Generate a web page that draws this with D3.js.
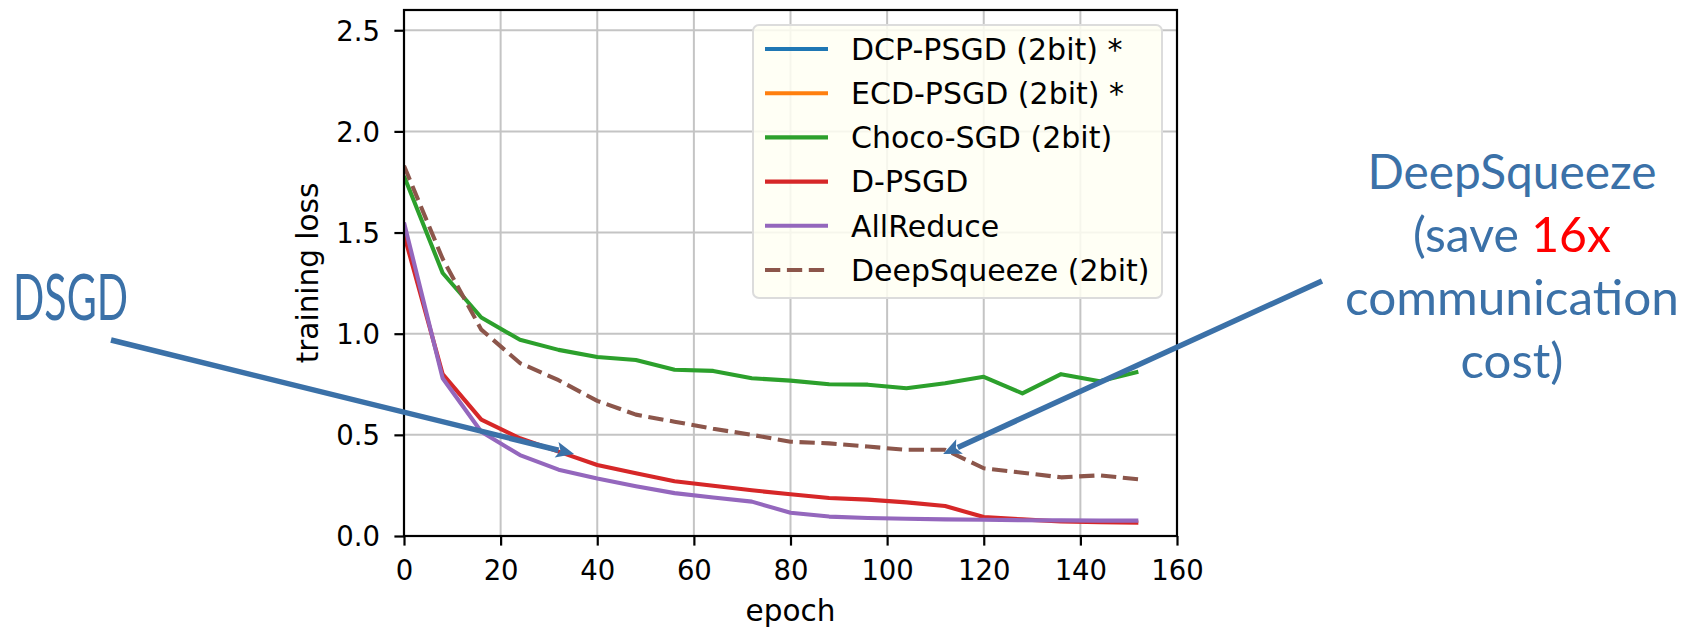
<!DOCTYPE html>
<html>
<head>
<meta charset="utf-8">
<script src="https://cdn.jsdelivr.net/npm/d3@7"></script>
<style>
  html, body { margin: 0; padding: 0; background: #ffffff; }
  svg { display: block; }
</style>
</head>
<body>
<svg id="chart" width="1686" height="630"></svg>
<script>
// Training loss per epoch for each method
const epochs = [0, 8, 16, 24, 32, 40, 48, 56, 64, 72, 80, 88, 96, 104, 112, 120, 128, 136, 144, 152];
// The two starred methods diverge: their loss never enters the plotted range
const dcpLoss = [];
const ecdLoss = [];
const chocoLoss = [1.78, 1.30, 1.08, 0.97, 0.92, 0.885, 0.87, 0.822, 0.816, 0.78, 0.768, 0.75, 0.748, 0.73, 0.755, 0.787, 0.705, 0.80, 0.765, 0.812];
const dpsgdLoss = [1.49, 0.80, 0.575, 0.483, 0.417, 0.351, 0.31, 0.271, 0.248, 0.226, 0.206, 0.188, 0.18, 0.166, 0.148, 0.094, 0.082, 0.072, 0.068, 0.066];
const allreduceLoss = [1.55, 0.78, 0.515, 0.40, 0.328, 0.284, 0.246, 0.212, 0.19, 0.17, 0.115, 0.096, 0.089, 0.085, 0.082, 0.08, 0.078, 0.077, 0.076, 0.076];
const deepsqueezeLoss = [1.83, 1.37, 1.02, 0.855, 0.77, 0.668, 0.60, 0.565, 0.53, 0.50, 0.466, 0.458, 0.442, 0.426, 0.426, 0.335, 0.313, 0.29, 0.30, 0.28];

const seriesNames = ["DCP-PSGD (2bit) *", "ECD-PSGD (2bit) *", "Choco-SGD (2bit)", "D-PSGD", "AllReduce", "DeepSqueeze (2bit)"];
const seriesValues = [dcpLoss, ecdLoss, chocoLoss, dpsgdLoss, allreduceLoss, deepsqueezeLoss];
const seriesColors = ["#1f77b4", "#ff7f0e", "#2ca02c", "#d62728", "#9467bd", "#8c564b"];
const seriesDashed = [false, false, false, false, false, true];

const xTicks = [0, 20, 40, 60, 80, 100, 120, 140, 160];
const yTicks = [0.0, 0.5, 1.0, 1.5, 2.0, 2.5];
const xLabel = "epoch";
const yLabel = "training loss";

// Callout pointers: tip in data space (epoch, loss), tail in page space
const dsgdTip = [35.2, 0.405];
const deepsqueezeTip = [111.6, 0.405];

const svg = d3.select("#chart");

const plot = { left: 404, right: 1177, top: 10, bottom: 536 };
const x = d3.scaleLinear().domain([0, 160]).range([plot.left, plot.right]);
const y = d3.scaleLinear().domain([0, 2.6]).range([plot.bottom, plot.top]);

const tickFont = "'DejaVu Sans', sans-serif";

svg.append("defs").append("clipPath").attr("id", "plot-clip")
  .append("rect")
  .attr("x", plot.left).attr("y", plot.top)
  .attr("width", plot.right - plot.left).attr("height", plot.bottom - plot.top);

// Grid
const grid = svg.append("g").attr("class", "grid");
grid.selectAll("line.gx").data(xTicks).join("line")
  .attr("x1", d => x(d)).attr("x2", d => x(d))
  .attr("y1", plot.top).attr("y2", plot.bottom)
  .attr("stroke", "#c4c4c4").attr("stroke-width", 2);
grid.selectAll("line.gy").data(yTicks).join("line")
  .attr("x1", plot.left).attr("x2", plot.right)
  .attr("y1", d => y(d)).attr("y2", d => y(d))
  .attr("stroke", "#c4c4c4").attr("stroke-width", 2);

// Curves
const line = d3.line()
  .x((d, i) => x(epochs[i]))
  .y(d => y(d));

const curves = svg.append("g").attr("clip-path", "url(#plot-clip)");
seriesValues.forEach((vals, k) => {
  if (!vals.length) return;
  curves.append("path")
    .datum(vals)
    .attr("d", line)
    .attr("fill", "none")
    .attr("stroke", seriesColors[k])
    .attr("stroke-width", 4.1)
    .attr("stroke-linejoin", "round")
    .attr("stroke-dasharray", seriesDashed[k] ? "15.3,6.6" : null);
});

// Axes
const xAxis = svg.append("g")
  .attr("transform", `translate(0,${plot.bottom})`)
  .call(d3.axisBottom(x).tickValues(xTicks).tickFormat(d3.format("d")).tickSize(9.6).tickPadding(6));
const yAxis = svg.append("g")
  .attr("transform", `translate(${plot.left},0)`)
  .call(d3.axisLeft(y).tickValues(yTicks).tickFormat(d3.format(".1f")).tickSize(9.6).tickPadding(14));

[xAxis, yAxis].forEach(ax => {
  ax.select(".domain").remove();
  ax.selectAll(".tick line").attr("stroke", "#000").attr("stroke-width", 2.2);
  ax.selectAll(".tick text")
    .attr("fill", "#000")
    .style("font-family", tickFont)
    .style("font-size", "27.5px");
});
xAxis.selectAll(".tick text").attr("y", 0).attr("dy", null)
  .attr("transform", "translate(0,44)");
yAxis.selectAll(".tick text").attr("x", -24).attr("dy", "0.36em");

// Spines
svg.append("rect")
  .attr("x", plot.left).attr("y", plot.top)
  .attr("width", plot.right - plot.left).attr("height", plot.bottom - plot.top)
  .attr("fill", "none").attr("stroke", "#000").attr("stroke-width", 2.2);

// Axis titles
svg.append("text")
  .attr("x", (plot.left + plot.right) / 2).attr("y", 621)
  .attr("text-anchor", "middle")
  .style("font-family", tickFont).style("font-size", "29.5px")
  .text(xLabel);
svg.append("text")
  .attr("transform", `translate(318,${(plot.top + plot.bottom) / 2}) rotate(-90)`)
  .attr("text-anchor", "middle")
  .style("font-family", tickFont).style("font-size", "29.5px")
  .text(yLabel);

// Legend
const legend = svg.append("g");
legend.append("rect")
  .attr("x", 753).attr("y", 25).attr("width", 409).attr("height", 273)
  .attr("rx", 6).attr("ry", 6)
  .attr("fill", "#fffff3").attr("fill-opacity", 0.85)
  .attr("stroke", "#dcdcdc").attr("stroke-width", 2);
const rowY = d3.scaleLinear().domain([0, 5]).range([49, 270]);
seriesNames.forEach((name, k) => {
  const cy = rowY(k);
  legend.append("line")
    .attr("x1", 765).attr("x2", 828).attr("y1", cy).attr("y2", cy)
    .attr("stroke", seriesColors[k]).attr("stroke-width", 4.1)
    .attr("stroke-dasharray", seriesDashed[k] ? "15.3,6.6" : null);
  legend.append("text")
    .attr("x", 851).attr("y", cy).attr("dy", "0.36em")
    .style("font-family", tickFont).style("font-size", "30px")
    .attr("fill", "#000")
    .text(name);
});

// Callouts
const calloutBlue = "#3b71a8";
const calloutFont = "Lato, 'Open Sans', sans-serif";

function arrow(x0, y0, x1, y1) {
  const dx = x1 - x0, dy = y1 - y0;
  const len = Math.hypot(dx, dy);
  const ux = dx / len, uy = dy / len;
  const headLen = 18, headHalf = 8;
  const bx = x1 - ux * headLen, by = y1 - uy * headLen;
  svg.append("line")
    .attr("x1", x0).attr("y1", y0).attr("x2", bx + ux * 2).attr("y2", by + uy * 2)
    .attr("stroke", calloutBlue).attr("stroke-width", 5.5);
  svg.append("path")
    .attr("d", `M${x1},${y1} L${bx - uy * headHalf},${by + ux * headHalf} L${bx + ux * 4},${by + uy * 4} L${bx + uy * headHalf},${by - ux * headHalf} Z`)
    .attr("fill", calloutBlue);
}

arrow(111, 340, x(dsgdTip[0]), y(dsgdTip[1]));
arrow(1322, 281, x(deepsqueezeTip[0]), y(deepsqueezeTip[1]));

svg.append("text")
  .attr("x", 13).attr("y", 319.5)
  .attr("textLength", 115).attr("lengthAdjust", "spacingAndGlyphs")
  .style("font-family", calloutFont).style("font-size", "63px")
  .attr("fill", calloutBlue)
  .text("DSGD");

const rightLines = [
  { parts: [["DeepSqueeze", calloutBlue]], width: 289 },
  { parts: [["(save ", calloutBlue], ["16x", "#ff0000"]], width: 198 },
  { parts: [["communication", calloutBlue]], width: 334 },
  { parts: [["cost)", calloutBlue]], width: 103 }
];
rightLines.forEach((ln, i) => {
  const t = svg.append("text")
    .attr("x", 1512).attr("y", 188.5 + i * 63)
    .attr("text-anchor", "middle")
    .attr("textLength", ln.width).attr("lengthAdjust", "spacingAndGlyphs")
    .style("font-family", calloutFont).style("font-size", "48px");
  ln.parts.forEach(([s, c]) => t.append("tspan").attr("fill", c).text(s));
});
</script>
</body>
</html>
